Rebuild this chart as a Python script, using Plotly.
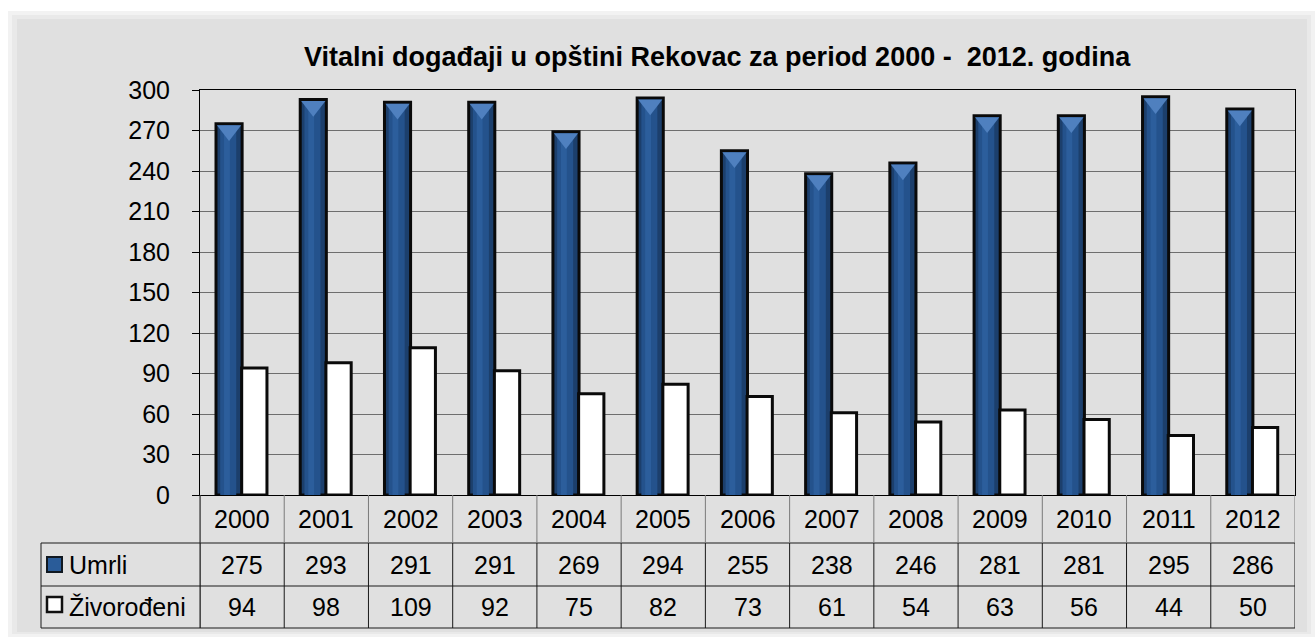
import plotly.graph_objects as go

years = ["2000", "2001", "2002", "2003", "2004", "2005", "2006",
         "2007", "2008", "2009", "2010", "2011", "2012"]
umrli = [275, 293, 291, 291, 269, 294, 255, 238, 246, 281, 281, 295, 286]
zivorodjeni = [94, 98, 109, 92, 75, 82, 73, 61, 54, 63, 56, 44, 50]
series_names = ["Umrli", "Živorođeni"]
title_text = "Vitalni događaji u opštini Rekovac za period 2000 -  2012. godina"
y_ticks = list(range(0, 301, 30))

W, H = 1315, 639
FONT = "Liberation Sans, Arial, sans-serif"
FS = 25

def px(x):
    return x / W

def py(y):
    return 1 - y / H

# layout constants (pixels)
PL, PR, PT, PB = 200, 1295, 90, 495
ROW1, ROW2, ROW3 = 543, 586, 628
TL = 41

idx = list(range(len(years)))
OFF_U = -0.155   # centre of Umrli bar relative to category centre
OFF_Z = 0.145    # centre of Zivorodjeni bar

fig = go.Figure()

BW = 0.31
fig.add_trace(go.Bar(x=years, y=umrli, name=series_names[0], width=BW, offset=OFF_U - BW / 2,
                     marker=dict(color="#1c3f6c", line=dict(color="#0a0a0a", width=3)),
                     showlegend=False))
fig.add_trace(go.Bar(x=years, y=[v - 1.5 for v in umrli], width=0.19, offset=OFF_U - 0.105,
                     marker=dict(color="#24528c", line=dict(width=0)), showlegend=False,
                     hoverinfo="skip"))
fig.add_trace(go.Bar(x=years, y=[v - 1.5 for v in umrli], width=0.07, offset=OFF_U - 0.06,
                     marker=dict(color="#2c5e9c", line=dict(width=0)), showlegend=False,
                     hoverinfo="skip"))
fig.add_trace(go.Bar(x=years, y=zivorodjeni, name=series_names[1], width=0.30,
                     offset=OFF_Z - 0.15,
                     marker=dict(color="#ffffff", line=dict(color="#0a0a0a", width=3)),
                     showlegend=False))
fig.add_trace(go.Scatter(x=idx, y=[v - 5 for v in umrli], mode="markers", xaxis="x2",
                         marker=dict(symbol="triangle-down", size=21, color="#4f80bf",
                                     line=dict(width=0)),
                         showlegend=False, hoverinfo="skip"))

fig.update_layout(
    width=W, height=H,
    margin=dict(l=0, r=0, t=0, b=0, pad=0, autoexpand=False),
    paper_bgcolor="white",
    plot_bgcolor="rgba(0,0,0,0)",
    barmode="overlay",
    font=dict(family=FONT, color="#000000"),
    xaxis=dict(domain=[px(PL), px(PR)], type="category", categoryorder="array",
               categoryarray=years, range=[-0.5, len(years) - 0.5],
               showticklabels=False, ticks="", showgrid=False, automargin=False,
               showline=True, linecolor="#000000", linewidth=1, mirror=True),
    xaxis2=dict(domain=[px(PL), px(PR)], overlaying="x", anchor="y", automargin=False,
                range=[-0.5 - OFF_U, len(years) - 0.5 - OFF_U], type="linear",
                visible=False),
    yaxis=dict(domain=[py(PB), py(PT)], range=[0, 300], tickvals=y_ticks,
               ticks="outside", ticklen=7, tickcolor="#000000", automargin=False,
               tickfont=dict(size=FS, family=FONT, color="#000000"),
               showgrid=True, gridcolor="#6e6e6e", gridwidth=1,
               showline=True, linecolor="#000000", linewidth=1, mirror=True,
               zeroline=False, ticklabelstandoff=17),
)

shapes = []
shapes.append(dict(type="rect", xref="paper", yref="paper", x0=px(8), x1=px(1315),
                   y0=py(637), y1=py(11), fillcolor="#f2f2f2", line=dict(width=0), layer="below"))
shapes.append(dict(type="rect", xref="paper", yref="paper", x0=px(12), x1=px(1311),
                   y0=py(634), y1=py(15), fillcolor="#e9e9e9", line=dict(width=0), layer="below"))
shapes.append(dict(type="rect", xref="paper", yref="paper", x0=px(17), x1=px(1307),
                   y0=py(632), y1=py(19), fillcolor="#e0e0e0", line=dict(width=0), layer="below"))

LINE = dict(color="#1a1a1a", width=1)
for yy in (ROW1, ROW2, ROW3):
    shapes.append(dict(type="line", xref="paper", yref="paper", x0=px(TL), x1=px(PR),
                       y0=py(yy), y1=py(yy), line=LINE))
shapes.append(dict(type="line", xref="paper", yref="paper", x0=px(TL), x1=px(TL),
                   y0=py(ROW1), y1=py(ROW3), line=LINE))
for i in range(len(years) + 1):
    shapes.append(dict(type="line", xref="x", yref="paper", x0=i - 0.5, x1=i - 0.5,
                       y0=py(PB), y1=py(ROW1), line=dict(color="#7a7a7a", width=1)))
    shapes.append(dict(type="line", xref="x", yref="paper", x0=i - 0.5, x1=i - 0.5,
                       y0=py(ROW1), y1=py(ROW3), line=LINE))
shapes.append(dict(type="line", xref="paper", yref="paper", x0=px(PL), x1=px(PL),
                   y0=py(PB), y1=py(ROW3), line=LINE))

shapes.append(dict(type="rect", xref="paper", yref="paper", x0=px(47), x1=px(62),
                   y0=py(572), y1=py(557), fillcolor="#2a5c99",
                   line=dict(color="#101820", width=2)))
shapes.append(dict(type="rect", xref="paper", yref="paper", x0=px(47), x1=px(62),
                   y0=py(612), y1=py(597), fillcolor="#ffffff",
                   line=dict(color="#101010", width=2.5)))

def ann(text, x, y, xref="paper", xanchor="center", size=FS):
    return dict(text=text, xref=xref, yref="paper", x=x, y=y, showarrow=False,
                xanchor=xanchor, yanchor="middle",
                font=dict(size=size, family=FONT, color="#000000"))

annotations = [ann("<b>" + title_text + "</b>", px(717), py(57), size=27)]
for i, yr in enumerate(years):
    annotations.append(ann(yr, i, py((PB + ROW1) / 2), xref="x"))
    annotations.append(ann(str(umrli[i]), i, py((ROW1 + ROW2) / 2), xref="x"))
    annotations.append(ann(str(zivorodjeni[i]), i, py((ROW2 + ROW3) / 2), xref="x"))
annotations.append(ann(series_names[0], px(67), py((ROW1 + ROW2) / 2), xanchor="left"))
annotations.append(ann(series_names[1], px(67), py((ROW2 + ROW3) / 2), xanchor="left"))

fig.update_layout(shapes=shapes, annotations=annotations)
fig.write_html("out.html", config={"displayModeBar": False},
               post_script="document.body.style.margin='0';")
